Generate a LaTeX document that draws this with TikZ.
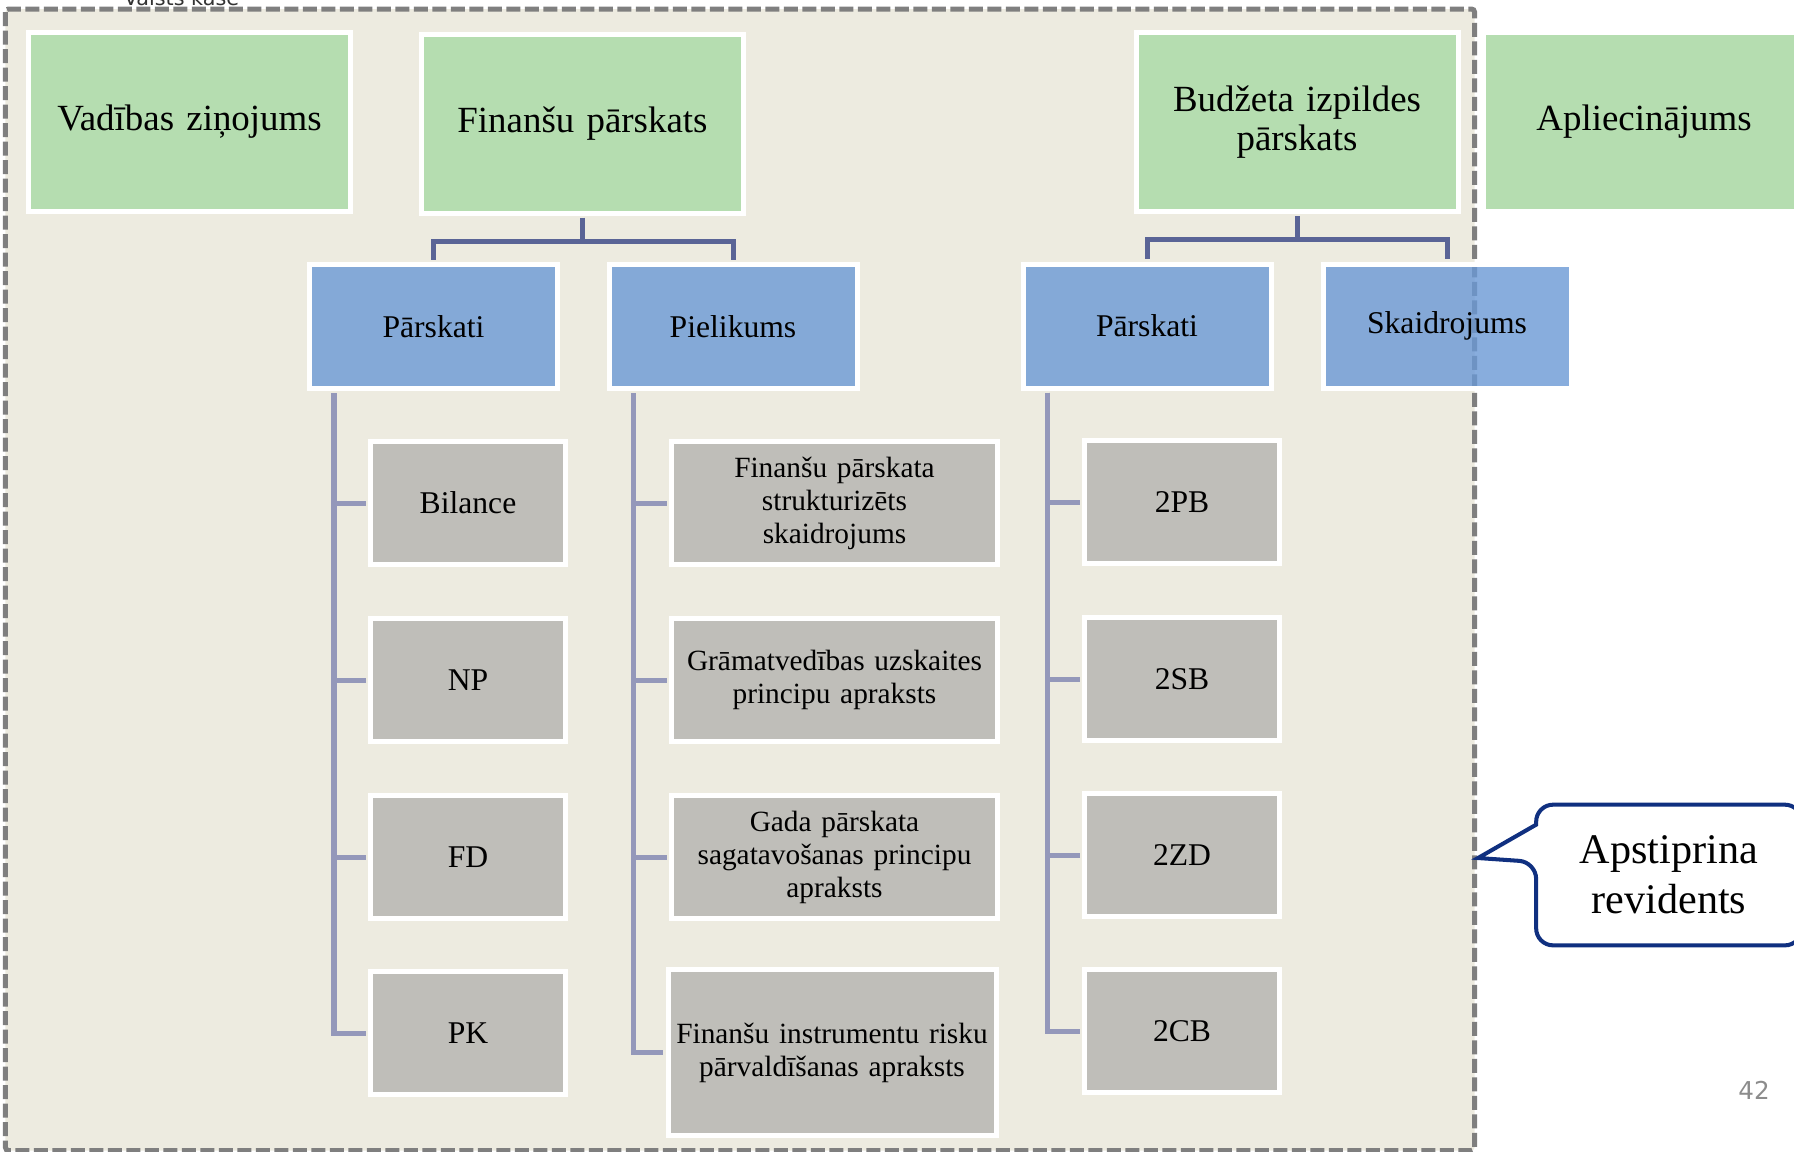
\documentclass[tikz,border=0pt]{standalone}
\usepackage{fontspec}
\setmainfont{Liberation Serif}
\newfontfamily\slaidfonts{DejaVu Sans}
\pgfdeclarelayer{background}
\pgfdeclarelayer{foreground}
\pgfsetlayers{background,main,foreground}
\definecolor{zals}{RGB}{181,221,176}
\definecolor{zils}{RGB}{132,169,215}
\definecolor{zilsCaursp}{RGB}{106,152,213}
\definecolor{peleks}{RGB}{191,190,185}
\definecolor{smilsu}{RGB}{237,235,224}
\definecolor{ramis}{RGB}{127,127,127}
\definecolor{stumbrs}{RGB}{90,100,150}
\definecolor{zaru}{RGB}{148,152,186}
\definecolor{tinte}{RGB}{16,48,128}
\definecolor{lappuse}{RGB}{140,140,140}
\tikzstyle{kaste}=[draw=white, line width=2.85pt, text centered, inner sep=0pt]
\tikzstyle{zalaKaste}=[kaste, fill=zals, text width=6.0cm,
	minimum width=6.44cm, minimum height=3.58cm, font=\fontsize{21}{22.5}\selectfont]
\tikzstyle{zilaKaste}=[kaste, fill=zils, text width=4.6cm, minimum width=4.96cm,
	minimum height=2.48cm, font=\fontsize{18}{21}\selectfont]
\tikzstyle{pelekaKaste}=[kaste, fill=peleks, text width=3.6cm, minimum width=3.9cm,
	minimum height=2.46cm, font=\fontsize{18}{21}\selectfont]
\tikzstyle{garaKaste}=[pelekaKaste, text width=6.3cm, minimum width=6.52cm,
	font=\fontsize{16.7}{18.8}\selectfont]
\tikzstyle{runa}=[text centered, text width=5.0cm, minimum width=5.3cm,
	minimum height=2.8cm, inner sep=0pt, font=\fontsize{24}{28.6}\selectfont]
\tikzstyle{savienojums} = [draw, line width=2.85pt, color=stumbrs,
	shorten <=1.4pt, shorten >=1.4pt]
\tikzstyle{zars} = [draw, line width=2.85pt, color=zaru,
	shorten <=1.4pt, shorten >=1.4pt]
\newcommand{\kaste}[3]{node (#1) [#2]
	{{#3}}}
\newcommand{\fons}[4]{%
	\begin{pgfonlayer}{background}
		% Left-top corner of the frame
		\path (#1.west |- #2.north)+(-0.41,0.41) coordinate (f1);
		% Right-bottom corner of the frame
		\path (#3.east |- #4.south)+(0.28,-0.25) coordinate (f2);
		% Draw the frame
		\path[rounded corners=0.06cm, fill=smilsu, draw=ramis, line width=0.1cm,
			dash pattern=on 0.28cm off 0.09cm] (f1) rectangle (f2);
	\end{pgfonlayer}}

\begin{document}
\begin{tikzpicture}
	\useasboundingbox (0,0) rectangle (35.88,-23.02);

	\path (3.79,-2.43) \kaste{vad}{zalaKaste}{Vadības ziņojums};
	\path (vad.center)+( 7.86,-0.04) \kaste{fin}{zalaKaste}{Finanšu pārskats};
	\path (vad.center)+(22.15,-0.01) \kaste{bud}{zalaKaste}{Budžeta izpildes\\ pārskats};
	\path (bud.center)+( 6.94, 0.00) \kaste{apl}{zalaKaste}{Apliecinājums};

	\path (fin.center)+(-2.98,-4.06) \kaste{par1}{zilaKaste}{Pārskati};
	\path (par1.center)+(5.99, 0.00) \kaste{piel}{zilaKaste}{Pielikums};
	\path (bud.center)+(-3.00,-4.08) \kaste{par2}{zilaKaste}{Pārskati};
	\path (par2.center)+(6.00, 0.00) \kaste{skaid}{zilaKaste, fill=zilsCaursp,
		fill opacity=0.8, text opacity=1}{Skaidrojums};

	\path (par1.center)+(0.69,-3.53) \kaste{bil}{pelekaKaste}{Bilance};
	\path (bil.center)+(0.0,-3.54) \kaste{np}{pelekaKaste}{NP};
	\path (np.center)+(0.0,-3.54) \kaste{fd}{pelekaKaste}{FD};
	\path (fd.center)+(0.0,-3.52) \kaste{pk}{pelekaKaste}{PK};

	\path (piel.center)+(2.03,-3.53) \kaste{fps}{garaKaste}{Finanšu pārskata\\ strukturizēts\\ skaidrojums};
	\path (fps.center)+(0.0,-3.54) \kaste{gram}{garaKaste}{Grāmatvedības uzskaites\\ principu apraksts};
	\path (gram.center)+(0.0,-3.54) \kaste{gada}{garaKaste}{Gada pārskata\\ sagatavošanas principu\\ apraksts};
	\path (gada.center)+(-0.05,-3.91) \kaste{risk}{garaKaste, minimum width=6.56cm,
		minimum height=3.32cm}{Finanšu instrumentu risku\\ pārvaldīšanas apraksts};

	\path (par2.center)+(0.70,-3.52) \kaste{pb}{pelekaKaste}{2PB};
	\path (pb.center)+(0.0,-3.54) \kaste{sb}{pelekaKaste}{2SB};
	\path (sb.center)+(0.0,-3.52) \kaste{zd}{pelekaKaste}{2ZD};
	\path (zd.center)+(0.0,-3.52) \kaste{cb}{pelekaKaste}{2CB};

	% Draw lines between elements
	\path [savienojums] (fin.south) -- ++(0,-0.51) -| (par1.north);
	\path [savienojums] (fin.south) -- ++(0,-0.51) -| (piel.north);
	\path [savienojums] (bud.south) -- ++(0,-0.51) -| (par2.north);
	\path [savienojums] (bud.south) -- ++(0,-0.51) -| (skaid.north);

	\foreach \b in {bil,np,fd,pk}
		\path [zars] ([xshift=0.54cm]par1.south west) |- (\b.west);
	\foreach \b in {fps,gram,gada,risk}
		\path [zars] ([xshift=0.54cm]piel.south west) |- (\b.west);
	\foreach \b in {pb,sb,zd,cb}
		\path [zars] ([xshift=0.54cm]par2.south west) |- (\b.west);

	\fons{vad}{vad}{bud}{risk}
	\path (3.63,-0.10) node (vk) [anchor=base, text=black!80]
		{\slaidfonts\fontsize{11.8}{14}\selectfont Valsts kase};

	% Callout
	\path (33.38,-17.5) \kaste{apst}{runa}{Apstiprina\\ revidents};
	\coordinate (smaile) at (29.56,-17.16);
	\draw[tinte, line width=2.3pt, line join=miter] (smaile)
		-- ([yshift=-0.4cm]apst.north west) [rounded corners=0.34cm]
		-- (apst.north west) -- (apst.north east) -- (apst.south east)
		-- (apst.south west) -- ([yshift=0.26cm]apst.west) [sharp corners] -- cycle;

	\path (35.08,-21.8) node (lpp) [text=lappuse]
		{\slaidfonts\fontsize{14}{16}\selectfont 42};
\end{tikzpicture}
\end{document}
